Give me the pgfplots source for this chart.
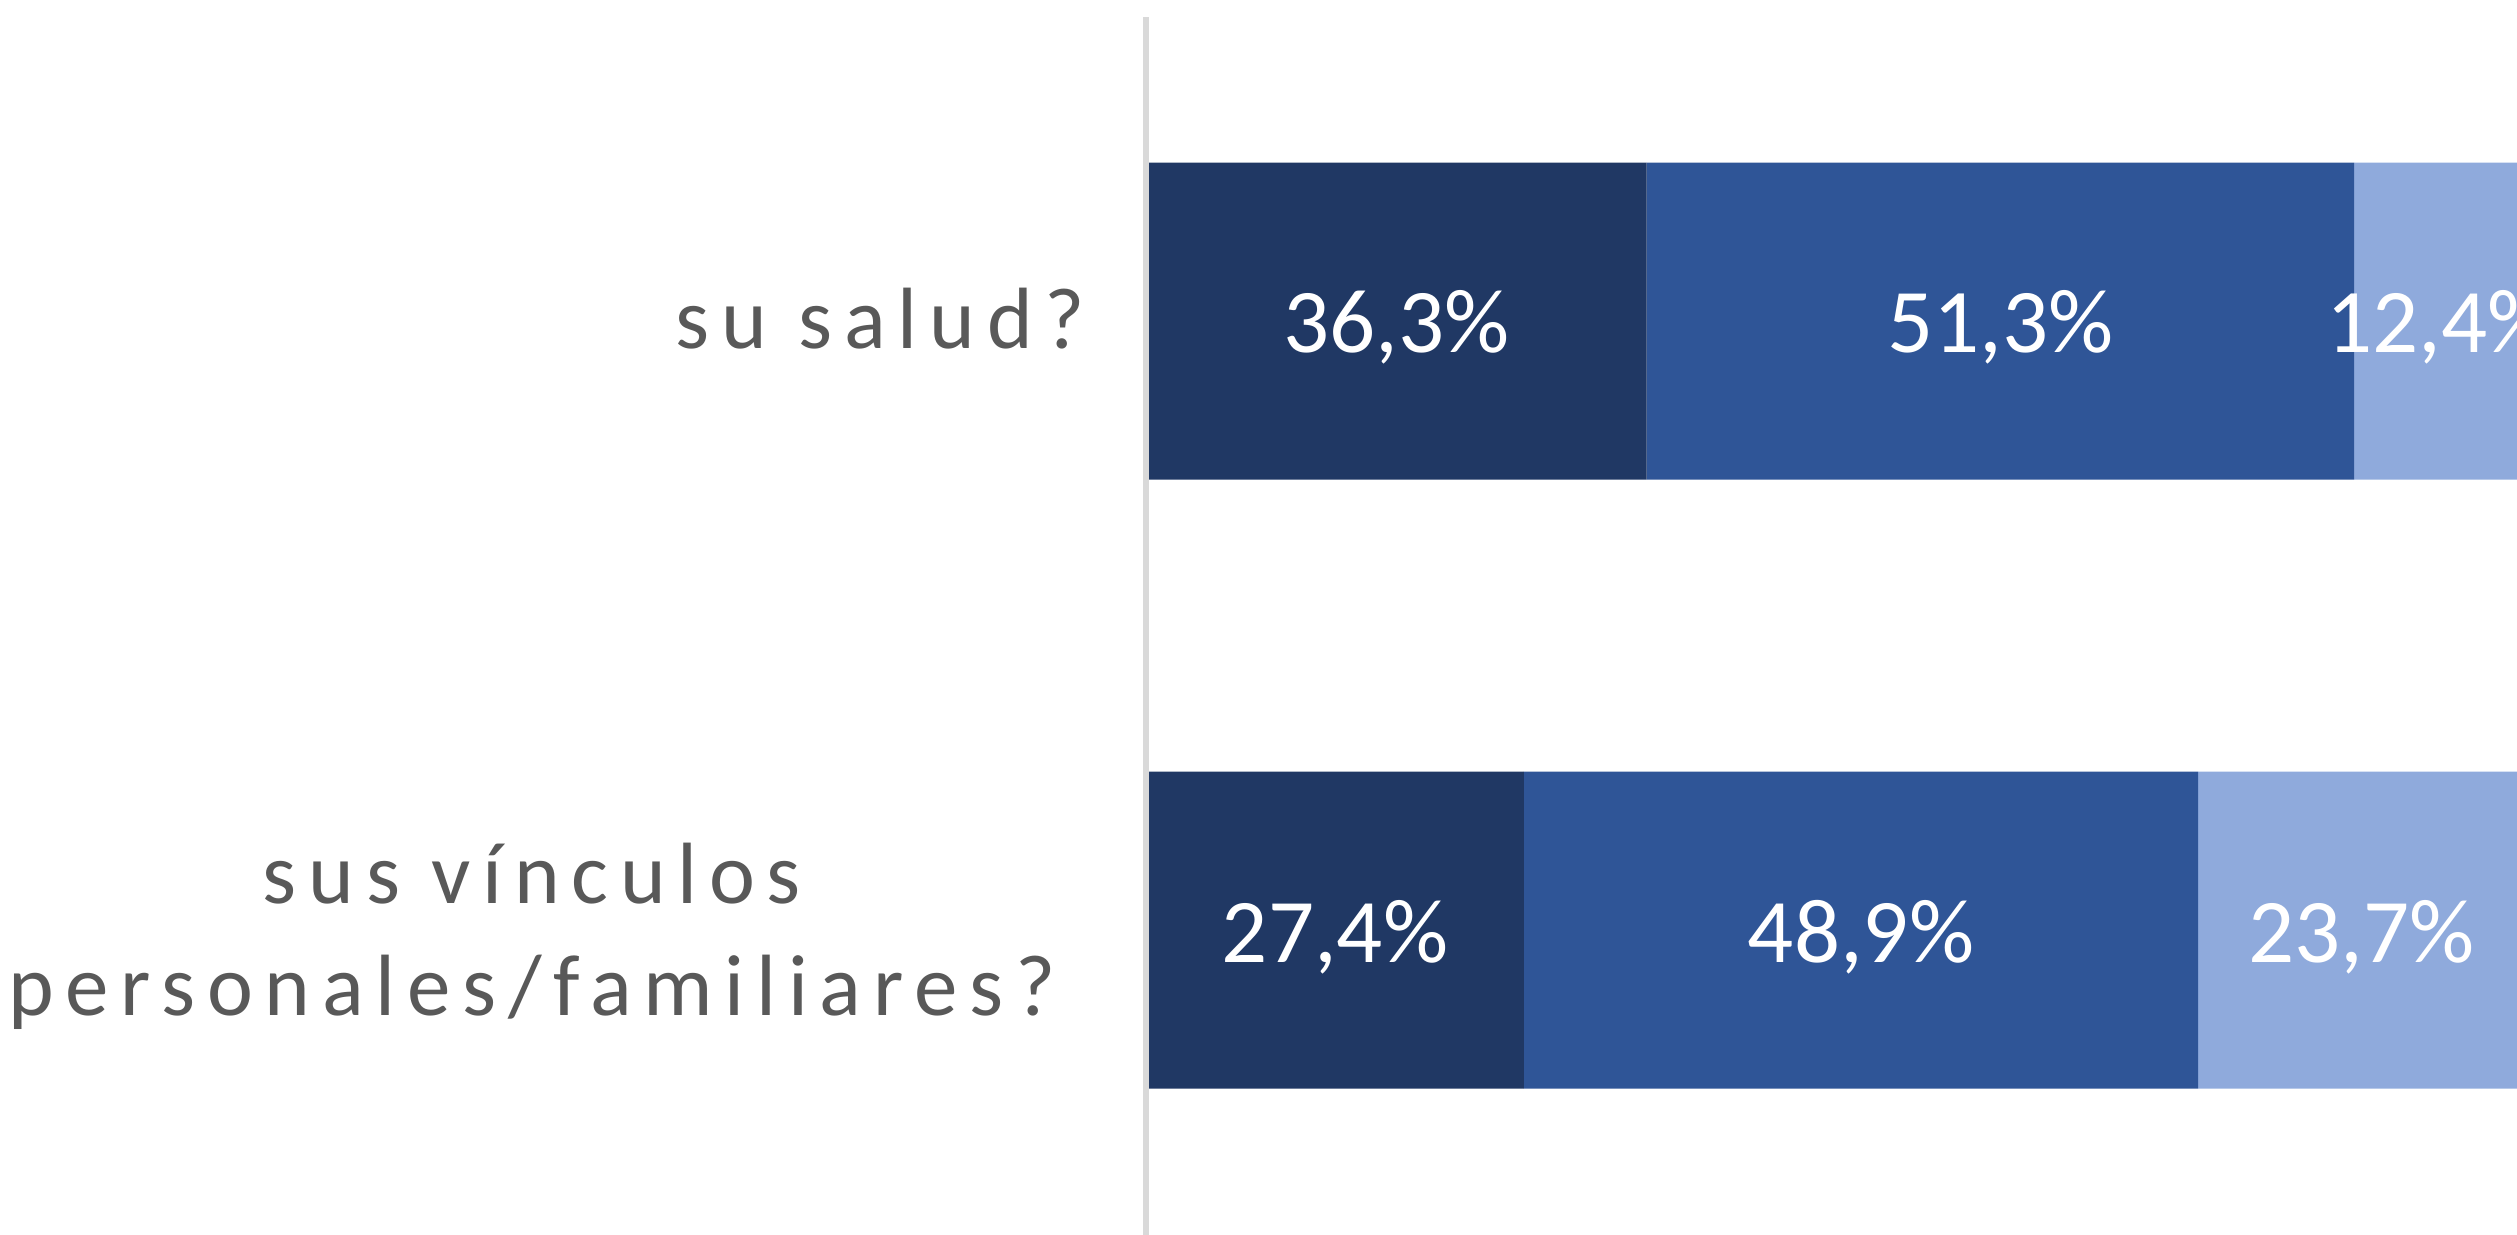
\documentclass[border=0pt]{standalone}
\usepackage{fontspec}
\setmainfont{Carlito}
\newfontfamily\labelfont{Carlito}[LetterSpace=13.5]
\usepackage{pgfplots}
\pgfplotsset{compat=1.18}
\definecolor{cDark}{HTML}{203864}
\definecolor{cMid}{HTML}{2F5597}
\definecolor{cLight}{HTML}{8FAADC}
\definecolor{cAxis}{HTML}{D9D9D9}
\definecolor{cText}{HTML}{595959}
\begin{document}
\begin{tikzpicture}
\path[use as bounding box] (0,0) rectangle (251.7pt,123.4pt);
\clip (0,0) rectangle (251.7pt,123.4pt);
\begin{axis}[
  at={(114.6pt,-0.05pt)}, anchor=south west,
  scale only axis, width=137.9pt, height=121.8pt,
  xmin=0, xmax=100, ymin=-0.5, ymax=1.5,
  xbar stacked, bar width=31.7pt,
  hide x axis,
  axis y line*=left,
  y axis line style={draw=cAxis, line width=0.6pt},
  ytick=\empty,
  axis on top,
  clip=false,
]
\addplot[fill=cDark, draw=none] coordinates {(36.3,1) (27.4,0)};
\addplot[fill=cMid, draw=none] coordinates {(51.3,1) (48.9,0)};
\addplot[fill=cLight, draw=none] coordinates {(12.4,1) (23.7,0)};
\node[anchor=base east, inner sep=0pt, text=cText, font=\labelfont\fontsize{8.7}{11.2}\selectfont, xshift=-5.9pt, yshift=-2.7pt] at (axis cs:0,1) {su salud?};
\node[anchor=base, inner sep=0pt, text=cText, font=\labelfont\fontsize{8.7}{11.2}\selectfont, xshift=-61.4pt, yshift=2.7pt] at (axis cs:0,0) {sus vínculos};
\node[anchor=base, inner sep=0pt, text=cText, font=\labelfont\fontsize{8.7}{11.2}\selectfont, xshift=-61.4pt, yshift=-8.5pt] at (axis cs:0,0) {personales/familiares?};
\end{axis}
\begin{axis}[
  at={(114.6pt,-0.05pt)}, anchor=south west,
  scale only axis, width=137.9pt, height=121.8pt,
  xmin=0, xmax=100, ymin=-0.5, ymax=1.5,
  hide axis, clip=false,
]
\addplot[only marks, mark=none, point meta=explicit symbolic,
  nodes near coords,
  every node near coord/.style={anchor=base, inner sep=0pt, text=white, font=\fontsize{9.1}{10.8}\selectfont, yshift=-3.2pt}]
  coordinates {
  (18.15,1) [36,3\%]
  (61.95,1) [51,3\%]
  (93.8,1) [12,4\%]
  (13.7,0) [27,4\%]
  (51.85,0) [48,9\%]
  (88.15,0) [23,7\%]
};
\end{axis}
\end{tikzpicture}
\end{document}
